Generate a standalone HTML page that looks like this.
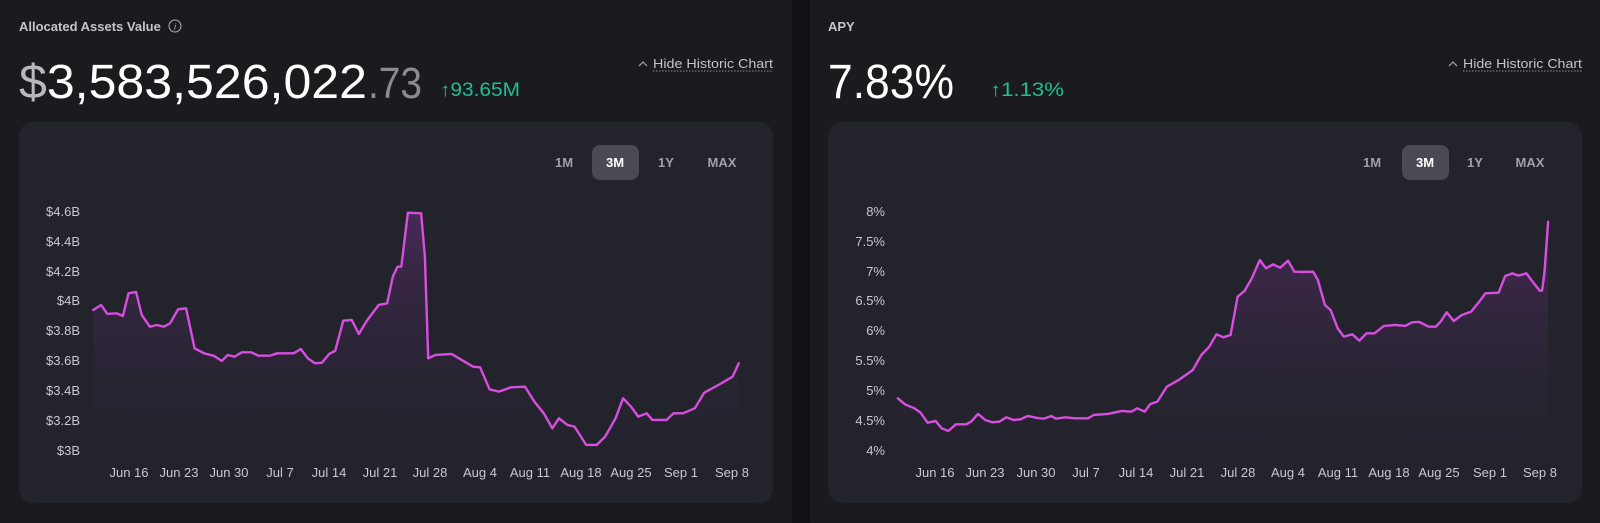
<!DOCTYPE html>
<html><head><meta charset="utf-8"><style>
html,body{margin:0;padding:0;background:#111115;}
svg{display:block;font-family:"Liberation Sans",sans-serif;}
</style></head><body>
<svg width="1600" height="523" viewBox="0 0 1600 523" xmlns="http://www.w3.org/2000/svg">
<defs>
<linearGradient id="g" x1="0" y1="0" x2="0" y2="1">
<stop offset="0" stop-color="#4a2a5a" stop-opacity="0.9"/>
<stop offset="1" stop-color="#23232c" stop-opacity="0.2"/>
</linearGradient>
</defs>
<rect x="0" y="0" width="1600" height="523" fill="#111115"/>
<rect x="-10" y="-14" width="802" height="550" rx="16" fill="#1a1a1f"/>
<rect x="810" y="-14" width="800" height="550" rx="16" fill="#1a1a1f"/>
<rect x="19" y="122" width="754" height="381" rx="14" fill="#23232c"/>
<rect x="828" y="122" width="754" height="381" rx="14" fill="#23232c"/>

<text x="19" y="31" font-size="13" font-weight="bold" fill="#c4c4cc">Allocated Assets Value</text>
<circle cx="175" cy="26" r="6" fill="none" stroke="#b0b0b8" stroke-width="1"/>
<text x="175" y="30" font-size="9" fill="#b0b0b8" text-anchor="middle" font-style="italic">i</text>
<text x="19" y="98" font-size="48" textLength="348" lengthAdjust="spacingAndGlyphs"><tspan fill="#b8b8c0">$</tspan><tspan fill="#ffffff">3,583,526,022</tspan></text>
<text x="368" y="98" font-size="44" fill="#8a8a94" textLength="54" lengthAdjust="spacingAndGlyphs">.73</text>
<text x="440" y="96" font-size="19" fill="#1fbf95" textLength="80" lengthAdjust="spacingAndGlyphs">↑93.65M</text>
<polyline points="639,66 643,62 647,66" fill="none" stroke="#a8a8b0" stroke-width="1.2"/>
<text x="653" y="68" font-size="13" fill="#c4c4cc" textLength="120" lengthAdjust="spacingAndGlyphs">Hide Historic Chart</text>
<line x1="653" y1="71" x2="773" y2="71" stroke="#8a8a94" stroke-width="1" stroke-dasharray="1.5,1.5"/>

<rect x="592" y="145" width="47" height="35" rx="8" fill="#4a4a55"/>
<g font-size="13" text-anchor="middle" font-weight="bold">
<text x="564" y="167" fill="#a0a0aa">1M</text>
<text x="615" y="167" fill="#ffffff">3M</text>
<text x="666" y="167" fill="#a0a0aa">1Y</text>
<text x="722" y="167" fill="#a0a0aa">MAX</text>
</g>

<text x="828" y="31" font-size="13" font-weight="bold" fill="#c4c4cc">APY</text>
<text x="828" y="98" font-size="48" fill="#ffffff" textLength="126" lengthAdjust="spacingAndGlyphs">7.83%</text>
<text x="990" y="96" font-size="19" fill="#1fbf95" textLength="74" lengthAdjust="spacingAndGlyphs">↑1.13%</text>
<polyline points="1449,66 1453,62 1457,66" fill="none" stroke="#a8a8b0" stroke-width="1.2"/>
<text x="1463" y="68" font-size="13" fill="#c4c4cc" textLength="119" lengthAdjust="spacingAndGlyphs">Hide Historic Chart</text>
<line x1="1463" y1="71" x2="1582" y2="71" stroke="#8a8a94" stroke-width="1" stroke-dasharray="1.5,1.5"/>
<rect x="1402" y="145" width="47" height="35" rx="8" fill="#4a4a55"/>
<g font-size="13" text-anchor="middle" font-weight="bold">
<text x="1372" y="167" fill="#a0a0aa">1M</text>
<text x="1425" y="167" fill="#ffffff">3M</text>
<text x="1475" y="167" fill="#a0a0aa">1Y</text>
<text x="1530" y="167" fill="#a0a0aa">MAX</text>
</g>

<g font-size="13" fill="#c8c8d0" text-anchor="end">
<text x="80" y="216">$4.6B</text>
<text x="80" y="246">$4.4B</text>
<text x="80" y="276">$4.2B</text>
<text x="80" y="305">$4B</text>
<text x="80" y="335">$3.8B</text>
<text x="80" y="365">$3.6B</text>
<text x="80" y="395">$3.4B</text>
<text x="80" y="425">$3.2B</text>
<text x="80" y="455">$3B</text>
</g>
<g font-size="13" fill="#c8c8d0" text-anchor="middle">
<text x="129" y="477">Jun 16</text>
<text x="179" y="477">Jun 23</text>
<text x="229" y="477">Jun 30</text>
<text x="280" y="477">Jul 7</text>
<text x="329" y="477">Jul 14</text>
<text x="380" y="477">Jul 21</text>
<text x="430" y="477">Jul 28</text>
<text x="480" y="477">Aug 4</text>
<text x="530" y="477">Aug 11</text>
<text x="581" y="477">Aug 18</text>
<text x="631" y="477">Aug 25</text>
<text x="681" y="477">Sep 1</text>
<text x="732" y="477">Sep 8</text>
</g>
<g transform="translate(20,190) scale(0.4719,0.3333)">
<path fill="url(#g)" d="M155,360 L172,345 185,372 205,370 218,378 230,310 246,306 258,375 275,410 290,405 305,410 318,400 335,358 352,355 370,475 390,490 410,497 428,513 440,495 455,500 470,487 490,487 505,497 530,497 545,490 580,490 595,477 610,505 625,520 640,518 655,492 668,482 685,392 703,390 718,432 735,392 760,345 778,340 790,260 800,230 808,230 822,68 850,70 858,200 865,505 880,495 915,492 930,505 960,530 975,532 995,598 1015,605 1040,592 1070,590 1090,635 1110,670 1128,715 1142,685 1160,705 1175,710 1200,765 1222,765 1240,740 1262,685 1278,625 1295,650 1310,680 1328,670 1340,690 1370,690 1385,670 1405,670 1430,655 1450,608 1480,585 1510,560 1523,520 L1523,800 L155,800 Z"/>
<polyline fill="none" stroke="#d84ee0" stroke-width="2.4" vector-effect="non-scaling-stroke" stroke-linejoin="round" stroke-linecap="round" points="155,360 172,345 185,372 205,370 218,378 230,310 246,306 258,375 275,410 290,405 305,410 318,400 335,358 352,355 370,475 390,490 410,497 428,513 440,495 455,500 470,487 490,487 505,497 530,497 545,490 580,490 595,477 610,505 625,520 640,518 655,492 668,482 685,392 703,390 718,432 735,392 760,345 778,340 790,260 800,230 808,230 822,68 850,70 858,200 865,505 880,495 915,492 930,505 960,530 975,532 995,598 1015,605 1040,592 1070,590 1090,635 1110,670 1128,715 1142,685 1160,705 1175,710 1200,765 1222,765 1240,740 1262,685 1278,625 1295,650 1310,680 1328,670 1340,690 1370,690 1385,670 1405,670 1430,655 1450,608 1480,585 1510,560 1523,520"/>
</g>

<g font-size="13" fill="#c8c8d0" text-anchor="end">
<text x="885" y="216">8%</text>
<text x="885" y="246">7.5%</text>
<text x="885" y="276">7%</text>
<text x="885" y="305">6.5%</text>
<text x="885" y="335">6%</text>
<text x="885" y="365">5.5%</text>
<text x="885" y="395">5%</text>
<text x="885" y="425">4.5%</text>
<text x="885" y="455">4%</text>
</g>
<g font-size="13" fill="#c8c8d0" text-anchor="middle">
<text x="935" y="477">Jun 16</text>
<text x="985" y="477">Jun 23</text>
<text x="1036" y="477">Jun 30</text>
<text x="1086" y="477">Jul 7</text>
<text x="1136" y="477">Jul 14</text>
<text x="1187" y="477">Jul 21</text>
<text x="1238" y="477">Jul 28</text>
<text x="1288" y="477">Aug 4</text>
<text x="1338" y="477">Aug 11</text>
<text x="1389" y="477">Aug 18</text>
<text x="1439" y="477">Aug 25</text>
<text x="1490" y="477">Sep 1</text>
<text x="1540" y="477">Sep 8</text>
</g>
<g transform="translate(820,190) scale(0.4719,0.3333)">
<path fill="url(#g)" d="M165,625 L180,643 200,655 213,668 228,698 245,693 258,715 272,723 288,703 310,703 320,695 335,672 350,690 365,697 380,695 395,682 410,690 425,688 440,678 460,684 475,686 490,678 500,686 520,682 540,685 568,685 580,675 610,672 640,663 660,665 672,655 688,665 700,642 715,635 735,590 760,570 790,540 808,495 825,470 840,433 855,442 870,435 885,320 900,302 915,265 932,210 945,235 960,223 975,233 992,212 1005,245 1020,246 1045,245 1055,270 1070,345 1082,360 1097,415 1110,440 1128,433 1143,452 1158,430 1175,430 1195,408 1220,405 1240,408 1255,397 1270,396 1290,410 1305,410 1315,395 1328,367 1343,393 1360,375 1380,365 1397,335 1410,310 1438,308 1452,258 1467,250 1480,257 1497,250 1510,275 1525,302 1530,302 1535,250 1543,95 L1543,800 L165,800 Z"/>
<polyline fill="none" stroke="#d84ee0" stroke-width="2.4" vector-effect="non-scaling-stroke" stroke-linejoin="round" stroke-linecap="round" points="165,625 180,643 200,655 213,668 228,698 245,693 258,715 272,723 288,703 310,703 320,695 335,672 350,690 365,697 380,695 395,682 410,690 425,688 440,678 460,684 475,686 490,678 500,686 520,682 540,685 568,685 580,675 610,672 640,663 660,665 672,655 688,665 700,642 715,635 735,590 760,570 790,540 808,495 825,470 840,433 855,442 870,435 885,320 900,302 915,265 932,210 945,235 960,223 975,233 992,212 1005,245 1020,246 1045,245 1055,270 1070,345 1082,360 1097,415 1110,440 1128,433 1143,452 1158,430 1175,430 1195,408 1220,405 1240,408 1255,397 1270,396 1290,410 1305,410 1315,395 1328,367 1343,393 1360,375 1380,365 1397,335 1410,310 1438,308 1452,258 1467,250 1480,257 1497,250 1510,275 1525,302 1530,302 1535,250 1543,95"/>
</g>
</svg>
</body></html>
